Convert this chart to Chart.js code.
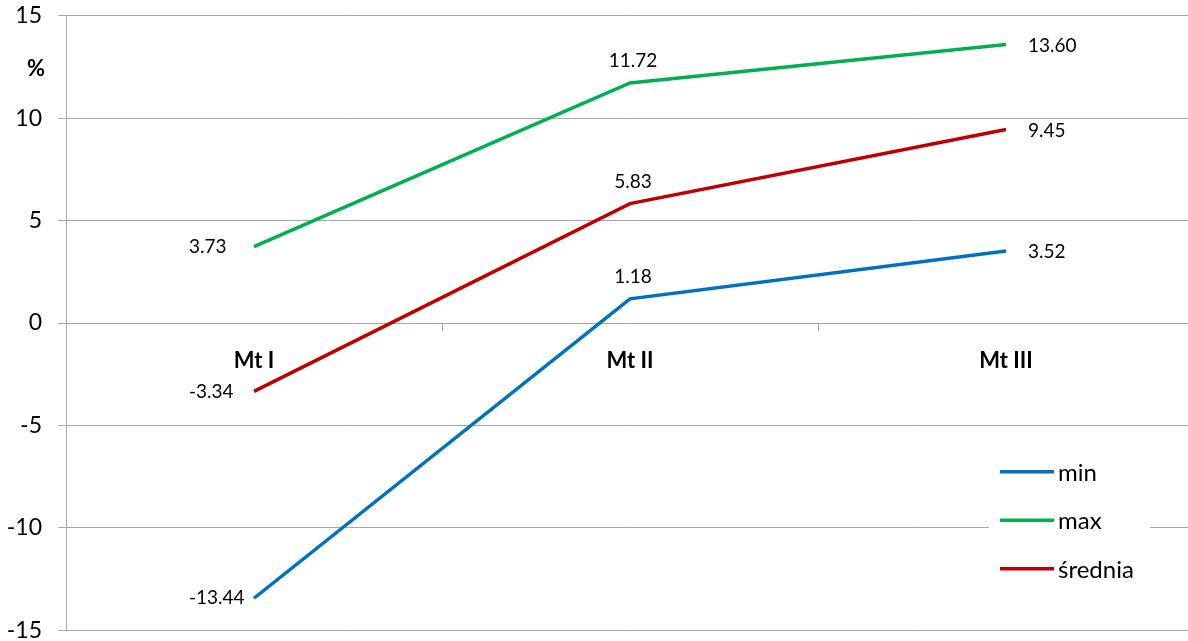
<!DOCTYPE html>
<html>
<head>
<meta charset="utf-8">
<script src="https://cdn.jsdelivr.net/npm/chart.js@4"></script>
<style>
  html, body { margin: 0; padding: 0; background: #fff; overflow: hidden; }
  #wrap { width: 1194px; height: 674px; margin-top: -14px; }
</style>
</head>
<body>
<div id="wrap"><canvas id="chart"></canvas></div>
<script>
const categories = ["Mt I", "Mt II", "Mt III"];
const minValues = [-13.44, 1.18, 3.52];
const maxValues = [3.73, 11.72, 13.60];
const avgValues = [-3.34, 5.83, 9.45];
const seriesNames = ["min", "max", "średnia"];
const seriesColors = ["#0070C0", "#00B050", "#C00000"];

const FONT = "Lato, 'Noto Sans', sans-serif";
const GRID = "#A6A6A6";

// value labels next to each point: left, above, right
const valueLabels = {
  id: "valueLabels",
  afterDatasetsDraw(chart) {
    const ctx = chart.ctx;
    ctx.save();
    ctx.font = "19px " + FONT;
    ctx.fillStyle = "#000";
    ctx.textBaseline = "middle";
    chart.data.datasets.forEach((ds, i) => {
      chart.getDatasetMeta(i).data.forEach((pt, j) => {
        const txt = ds.data[j].toFixed(2);
        if (j === 0) {
          ctx.textAlign = "left";
          ctx.fillText(txt, pt.x - 65, pt.y);
        } else if (j === ds.data.length - 1) {
          ctx.textAlign = "left";
          ctx.fillText(txt, pt.x + 22, pt.y + 1);
        } else {
          ctx.textAlign = "center";
          ctx.fillText(txt, pt.x + 3, pt.y - 22);
        }
      });
    });
    ctx.restore();
  },
};

// "%" unit label and legend box in the lower right
const extras = {
  id: "extras",
  afterDraw(chart) {
    const ctx = chart.ctx;
    const y = chart.scales.y;
    const top = chart.chartArea.top;
    ctx.save();
    ctx.font = "bold 22px " + FONT;
    ctx.fillStyle = "#000";
    ctx.textAlign = "center";
    ctx.textBaseline = "middle";
    ctx.fillText("%", 36, y.getPixelForValue(12.4));

    // legend, placed relative to the plot top
    const lx = 989, ly0 = top + 429;
    ctx.fillStyle = "#fff";
    ctx.fillRect(lx, ly0, 161, 150);
    ctx.font = "24px " + FONT;
    ctx.textAlign = "left";
    chart.data.datasets.forEach((ds, i) => {
      const ly = ly0 + 27 + i * 48.5;
      ctx.strokeStyle = ds.borderColor;
      ctx.lineWidth = 3.5;
      ctx.beginPath();
      ctx.moveTo(lx + 11, ly);
      ctx.lineTo(lx + 65, ly);
      ctx.stroke();
      ctx.fillStyle = "#000";
      ctx.fillText(ds.label, lx + 69, ly + 1);
    });
    ctx.restore();
  },
};

function makeDataset(label, values, color) {
  return {
    label: label,
    data: values,
    borderColor: color,
    backgroundColor: color,
    borderWidth: 3.5,
    pointRadius: 0,
    tension: 0,
    fill: false,
  };
}

new Chart(document.getElementById("chart"), {
  type: "line",
  data: {
    labels: categories,
    datasets: [
      makeDataset(seriesNames[0], minValues, seriesColors[0]),
      makeDataset(seriesNames[1], maxValues, seriesColors[1]),
      makeDataset(seriesNames[2], avgValues, seriesColors[2]),
    ],
  },
  options: {
    responsive: true,
    maintainAspectRatio: false,
    animation: false,
    layout: { padding: 0 },
    plugins: {
      legend: { display: false },
      tooltip: { enabled: false },
    },
    scales: {
      x: {
        type: "category",
        offset: true,
        position: { y: 0 },
        grid: {
          offset: true,
          drawOnChartArea: false,
          drawTicks: true,
          tickLength: 7,
          color: GRID,
        },
        border: { color: GRID },
        ticks: {
          color: "#000",
          font: { family: FONT, size: 22, weight: "bold" },
          padding: 18,
        },
      },
      y: {
        min: -15,
        max: 15,
        ticks: {
          stepSize: 5,
          color: "#000",
          font: { family: FONT, size: 23 },
          padding: 16,
        },
        grid: { color: GRID, tickLength: 8 },
        border: { color: GRID },
        afterFit(scale) {
          scale.width = 66;
        },
      },
    },
  },
  plugins: [valueLabels, extras],
});
</script>
</body>
</html>
